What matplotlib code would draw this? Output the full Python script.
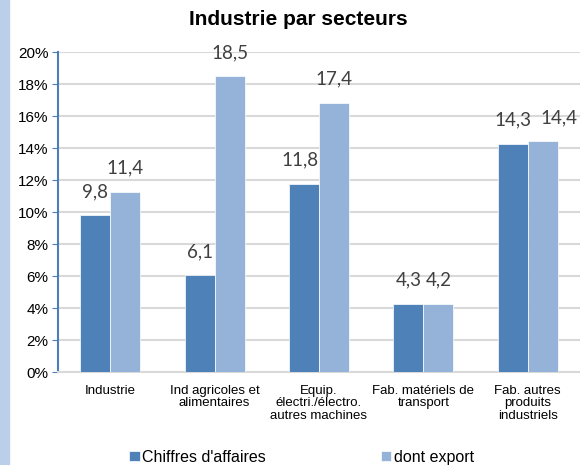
import matplotlib.pyplot as plt
import numpy as np
from matplotlib.patches import Rectangle

plt.rcParams['font.family'] = ['Liberation Sans', 'DejaVu Sans']

categories = ['Industrie', 'Ind agricoles et\nalimentaires', 'Equip.\nélectri./électro.\nautres machines',
              'Fab. matériels de\ntransport', 'Fab. autres\nproduits\nindustriels']
ca = [9.8, 6.05, 11.75, 4.28, 14.27]
export = [11.25, 18.5, 16.83, 4.28, 14.43]
ca_labels = ['9,8', '6,1', '11,8', '4,3', '14,3']
export_labels = ['11,4', '18,5', '17,4', '4,2', '14,4']

dark = '#4f81b9'
light = '#95b3d9'

fig = plt.figure(figsize=(5.8, 4.65), dpi=100)
fig.patches.append(Rectangle((0, 0), 9/580, 1, transform=fig.transFigure, color='#bccfea', zorder=0))
ax = fig.add_axes([0.1, 0.2, 0.9, 0.688])

x = np.arange(len(categories))
w = 0.287
ax.bar(x - w/2, ca, w, color=dark, edgecolor='white', linewidth=0.5, zorder=3, label="Chiffres d'affaires")
ax.bar(x + w/2, export, w, color=light, edgecolor='white', linewidth=0.5, zorder=3, label='dont export')

# labels of the last group were pushed apart in the original
nudge_ca = [0, 0, -0.04, 0, 0]
nudge_ex = [0, 0, 0, 0, 0.15]
for i in range(len(x)):
    ax.text(x[i] - w/2 + nudge_ca[i], ca[i] + 0.95, ca_labels[i], ha='center', va='bottom', fontsize=13.5,
            color='#404040', family='Lato')
    ax.text(x[i] + w/2 + nudge_ex[i], export[i] + 0.95, export_labels[i], ha='center', va='bottom', fontsize=13.5,
            color='#404040', family='Lato')

ax.set_xlim(-0.5, 4.5)
ax.set_ylim(0, 20)
ax.set_yticks(range(0, 21, 2))
ax.set_yticklabels([f'{v}%' for v in range(0, 21, 2)], fontsize=11)
ax.set_xticks(x)
ax.set_xticklabels(categories, fontsize=9.5, va='top', linespacing=1.1)
ax.tick_params(axis='x', length=0, pad=9)
ax.tick_params(axis='y', length=4, color='#4a7ebb', direction='out', pad=3)
ax.yaxis.grid(True, color='#d9d9d9', linewidth=1.5, zorder=0)
ax.set_axisbelow(True)
for s in ['top', 'right']:
    ax.spines[s].set_visible(False)
ax.spines['left'].set_color('#4a7ebb')
ax.spines['left'].set_linewidth(1.5)
ax.spines['bottom'].set_color('#d9d9d9')
ax.spines['bottom'].set_linewidth(1.5)

fig.text(0.514, 0.957, 'Industrie par secteurs', ha='center', va='center', fontsize=15, fontweight='bold')

fig.legend(loc='center', bbox_to_anchor=(0.52, 0.017), ncol=2, frameon=False, fontsize=11.5,
           handlelength=0.65, handleheight=0.65, handletextpad=0.15, columnspacing=7.2)

fig.savefig('out.png', dpi=100)
